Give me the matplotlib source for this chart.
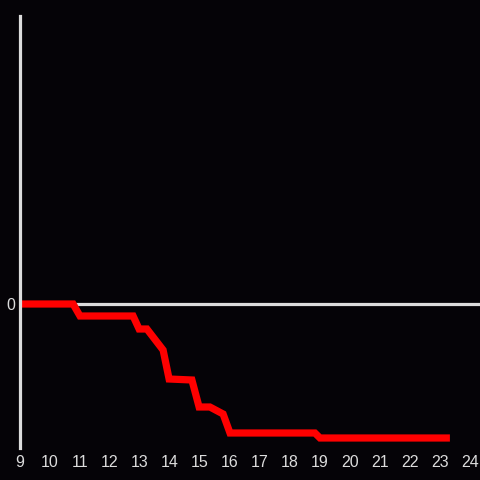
import matplotlib.pyplot as plt

hours = [9, 10.77, 11, 12.77, 12.97, 13.23, 13.77, 13.97, 14.73, 14.97, 15.33, 15.77, 16.0, 18.83, 19.0, 23.33]
values = [0, 0, -12, -12, -25, -25, -46, -75, -76, -103, -103, -110, -129, -129, -134, -134]
xticks = list(range(9, 25))

bg = '#050307'
grey = '#dcdcdc'

fig = plt.figure(figsize=(4.8, 4.8), dpi=100)
fig.patch.set_facecolor(bg)
ax = fig.add_axes([20 / 480, 32 / 480, 460 / 480, 432 / 480])
ax.set_facecolor(bg)

ax.axhline(0, color=grey, lw=2.3, zorder=1)
ax.plot(hours, values, color='#ff0000', lw=5.2, solid_capstyle='butt',
        solid_joinstyle='miter', zorder=3)

ax.set_xlim(9, 9 + 460 / 30)
ax.set_ylim(-144, 288)
ax.set_xticks(xticks)
ax.set_yticks([0])
ax.tick_params(length=0, colors=grey, labelsize=11.5)
ax.tick_params(axis='x', pad=5)
ax.tick_params(axis='y', pad=3.5)
for lab in ax.get_xticklabels() + ax.get_yticklabels():
    lab.set_family('Liberation Sans')

for s in ['top', 'right', 'bottom']:
    ax.spines[s].set_visible(False)
ax.spines['left'].set_color(grey)
ax.spines['left'].set_linewidth(2.3)
ax.spines['left'].set_zorder(4)

fig.savefig('out.png', dpi=100, facecolor=bg)
